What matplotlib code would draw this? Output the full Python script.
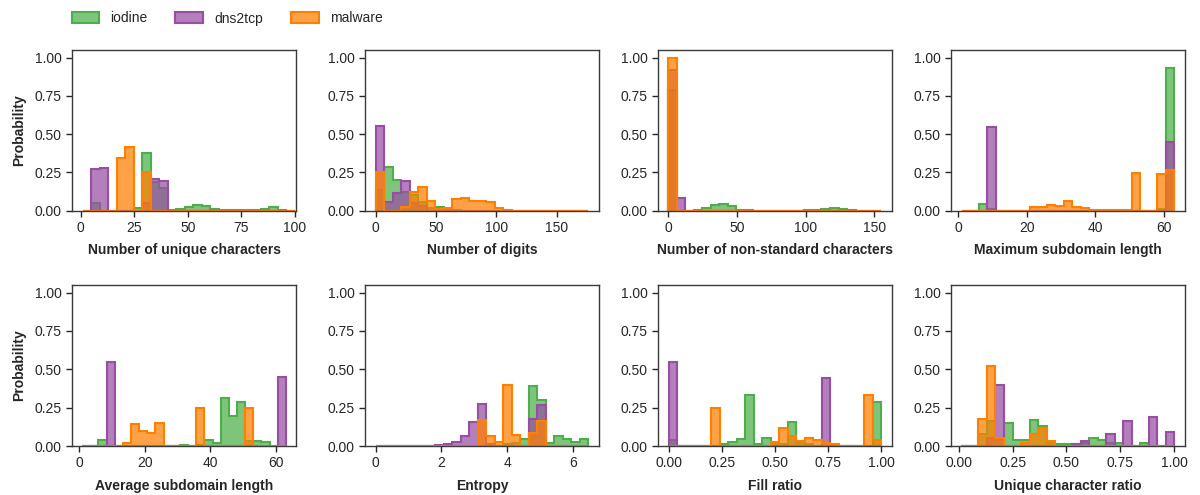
import numpy as np
import matplotlib
matplotlib.use("Agg")
import matplotlib.pyplot as plt
from matplotlib.patches import Patch
from matplotlib.colors import to_rgba

plt.rcParams['font.family'] = ['Liberation Sans', 'DejaVu Sans']

series_names = ["iodine", "dns2tcp", "malware"]
series_colors = ["#4daf4a", "#984ea3", "#ff7f00"]

feature_labels = [
    "Number of unique characters", "Number of digits",
    "Number of non-standard characters", "Maximum subdomain length",
    "Average subdomain length", "Entropy", "Fill ratio", "Unique character ratio",
]
# (min, max) of each feature; 25 common bins per feature
feature_ranges = [(1, 100), (0, 176), (0, 155), (1, 63),
                  (1, 63), (0, 6.46), (0, 1), (0.0125, 1)]
n_bins = 25

xtick_values = [
    [0, 25, 50, 75, 100], [0, 50, 100, 150], [0, 50, 100, 150], [0, 20, 40, 60],
    [0, 20, 40, 60], [0, 2, 4, 6], [0, 0.25, 0.5, 0.75, 1.0], [0, 0.25, 0.5, 0.75, 1.0],
]
xtick_labels = [
    ["0", "25", "50", "75", "100"], ["0", "50", "100", "150"], ["0", "50", "100", "150"],
    ["0", "20", "40", "60"], ["0", "20", "40", "60"], ["0", "2", "4", "6"],
    ["0.00", "0.25", "0.50", "0.75", "1.00"], ["0.00", "0.25", "0.50", "0.75", "1.00"],
]
xlims = [(-4.0, 100.5), (-8.9, 185.0), (-7.6, 163.0), (-2.1, 66.2),
         (-2.1, 66.1), (-0.32, 6.78), (-0.05, 1.05), (-0.036, 1.05)]

# probabilities per bin (25 bins) -- iodine
iodine = [
    [0, 0.05, 0, 0, 0, 0, 0.018, 0.38, 0.19, 0.15, 0.005, 0.013, 0.025, 0.035, 0.033,
     0.01, 0.002, 0.002, 0.002, 0.002, 0.002, 0.013, 0.026, 0.004, 0],
    [0.135, 0.286, 0.20, 0.12, 0.10, 0.06, 0.02, 0.025, 0.004, 0.002, 0.001, 0, 0, 0, 0,
     0, 0, 0, 0, 0, 0, 0, 0, 0, 0],
    [0.79, 0, 0, 0.005, 0.015, 0.04, 0.047, 0.033, 0.005, 0.002, 0.001, 0.001, 0.001, 0.001,
     0.001, 0.001, 0.002, 0.003, 0.012, 0.015, 0.012, 0.002, 0.001, 0, 0],
    [0, 0, 0.045, 0.01, 0, 0, 0, 0, 0, 0, 0, 0, 0, 0, 0, 0, 0, 0, 0, 0, 0, 0, 0, 0.01, 0.935],
    [0, 0, 0.04, 0, 0, 0, 0, 0, 0, 0, 0, 0, 0.009, 0.003, 0.005, 0.04, 0.022, 0.31, 0.193,
     0.29, 0.03, 0.03, 0.027, 0, 0],
    [0, 0, 0, 0, 0, 0, 0, 0, 0, 0, 0, 0, 0, 0, 0, 0.01, 0.02, 0.046, 0.39, 0.298, 0.018,
     0.068, 0.044, 0.024, 0.044],
    [0.04, 0, 0, 0, 0, 0, 0.01, 0.028, 0.046, 0.33, 0.01, 0.055, 0.01, 0.01, 0.158, 0.02,
     0.01, 0, 0, 0, 0, 0, 0, 0, 0.285],
    [0, 0, 0.08, 0.16, 0.04, 0.153, 0.037, 0.04, 0.171, 0.13, 0.02, 0.01, 0.015, 0.015, 0.02,
     0.05, 0.04, 0.02, 0.02, 0, 0, 0.018, 0, 0, 0],
]
# dns2tcp
dns2tcp = [
    [0, 0.27, 0.279, 0, 0, 0, 0, 0.05, 0.204, 0.195, 0, 0, 0, 0, 0, 0, 0, 0, 0, 0, 0, 0, 0,
     0, 0],
    [0.552, 0.06, 0.114, 0.195, 0.05, 0.03, 0, 0, 0, 0, 0, 0, 0, 0, 0, 0, 0, 0, 0, 0, 0, 0,
     0, 0, 0],
    [0.92, 0.08, 0, 0, 0, 0, 0, 0, 0, 0, 0, 0, 0, 0, 0, 0, 0, 0, 0, 0, 0, 0, 0, 0, 0],
    [0, 0, 0, 0.55, 0, 0, 0, 0, 0, 0, 0, 0, 0, 0, 0, 0, 0, 0, 0, 0, 0, 0, 0, 0, 0.45],
    [0, 0, 0, 0.55, 0, 0, 0, 0, 0, 0, 0, 0, 0, 0, 0, 0, 0, 0, 0, 0, 0, 0, 0, 0, 0.45],
    [0, 0, 0, 0, 0, 0, 0, 0.004, 0.01, 0.028, 0.068, 0.158, 0.274, 0.01, 0, 0, 0, 0, 0.175,
     0.27, 0, 0, 0, 0, 0],
    [0.548, 0, 0, 0, 0, 0, 0, 0, 0, 0, 0, 0, 0, 0, 0, 0, 0, 0, 0.445, 0, 0, 0, 0, 0, 0],
    [0, 0, 0, 0.05, 0.395, 0, 0, 0, 0, 0, 0, 0, 0, 0.015, 0.03, 0, 0, 0.08, 0, 0.16, 0, 0,
     0.186, 0, 0.09],
]
# malware
malware = [
    [0, 0, 0, 0, 0.343, 0.414, 0, 0.254, 0, 0, 0, 0, 0, 0, 0, 0, 0, 0, 0, 0, 0, 0, 0, 0, 0],
    [0.25, 0, 0, 0.026, 0.125, 0.157, 0.063, 0.01, 0.015, 0.074, 0.08, 0.065, 0.065, 0.055,
     0.02, 0.005, 0.001, 0.001, 0.001, 0.001, 0.001, 0.001, 0.001, 0.001, 0.001],
    [1.0, 0, 0, 0, 0, 0, 0, 0, 0, 0, 0, 0, 0, 0, 0, 0, 0, 0, 0, 0, 0, 0, 0, 0, 0],
    [0.001, 0.001, 0.001, 0.001, 0.001, 0.001, 0.001, 0.001, 0.022, 0.027, 0.04, 0.029,
     0.062, 0.027, 0.018, 0.007, 0.002, 0.002, 0.002, 0.002, 0.248, 0, 0, 0.237, 0.263],
    [0.002, 0.002, 0, 0, 0, 0.018, 0.145, 0.10, 0.083, 0.147, 0, 0, 0, 0, 0.25, 0, 0, 0, 0,
     0, 0.248, 0, 0, 0, 0],
    [0.001, 0.001, 0.001, 0.001, 0.001, 0.001, 0.001, 0.001, 0, 0, 0, 0, 0.17, 0.062, 0.024,
     0.40, 0.072, 0, 0.088, 0.16, 0, 0, 0, 0, 0],
    [0.003, 0.003, 0.003, 0.003, 0.003, 0.248, 0, 0, 0, 0, 0, 0, 0.024, 0.118, 0.068, 0.035,
     0.05, 0.04, 0.022, 0.013, 0.002, 0.002, 0.002, 0.331, 0.04],
    [0.002, 0.002, 0.173, 0.522, 0.05, 0, 0, 0.018, 0.079, 0.118, 0.033, 0, 0, 0, 0, 0, 0,
     0, 0, 0, 0, 0, 0, 0, 0],
]

all_series = [iodine, dns2tcp, malware]
yticks = [0, 0.25, 0.5, 0.75, 1.0]
ytick_labels = ["0.00", "0.25", "0.50", "0.75", "1.00"]

W, H = 1200, 495
fig = plt.figure(figsize=(W / 100, H / 100), dpi=100)

col_lr = [(72, 296), (365, 599), (658, 892), (951, 1185)]
row_tb = [(50, 210.7), (285, 446)]

text_color = "#262626"
spine_color = "#3a3a3a"
alpha = 0.72

for i in range(8):
    r, c = divmod(i, 4)
    l, rr = col_lr[c]
    t, b = row_tb[r]
    ax = fig.add_axes([l / W, 1 - b / H, (rr - l) / W, (b - t) / H])
    lo, hi = feature_ranges[i]
    edges = np.linspace(lo, hi, n_bins + 1)
    for s, color in zip(all_series, series_colors):
        vals = np.asarray(s[i], dtype=float)
        ax.stairs(vals, edges, baseline=0, fill=True, facecolor=to_rgba(color, alpha),
                  edgecolor="none", linewidth=0)
        ax.stairs(vals, edges, baseline=0, fill=False, color=color, linewidth=1.5)
    ax.set_xlim(*xlims[i])
    ax.set_ylim(0, 1.05)
    ax.set_xticks(xtick_values[i])
    ax.set_xticklabels(xtick_labels[i])
    ax.set_yticks(yticks)
    ax.set_yticklabels(ytick_labels)
    ax.set_xlabel(feature_labels[i], fontsize=10, fontweight="bold", color=text_color,
                  labelpad=6)
    if c == 0:
        ax.set_ylabel("Probability", fontsize=10, fontweight="bold", color=text_color,
                      labelpad=6)
    ax.tick_params(axis="both", labelsize=10, colors=text_color, length=4.5, width=1.0,
                   direction="out", pad=3)
    for sp in ax.spines.values():
        sp.set_color(spine_color)
        sp.set_linewidth(1.0)

handles = [Patch(facecolor=to_rgba(c, alpha), edgecolor=c, linewidth=1.5) for c in series_colors]
fig.legend(handles, series_names, loc="upper left", bbox_to_anchor=(59 / W, 1 + 1 / H),
           ncol=3, frameon=False, fontsize=10, handlelength=2.0, handleheight=0.9,
           handletextpad=0.8, columnspacing=2.0, labelcolor=text_color)

fig.savefig("out.png", dpi=100)
